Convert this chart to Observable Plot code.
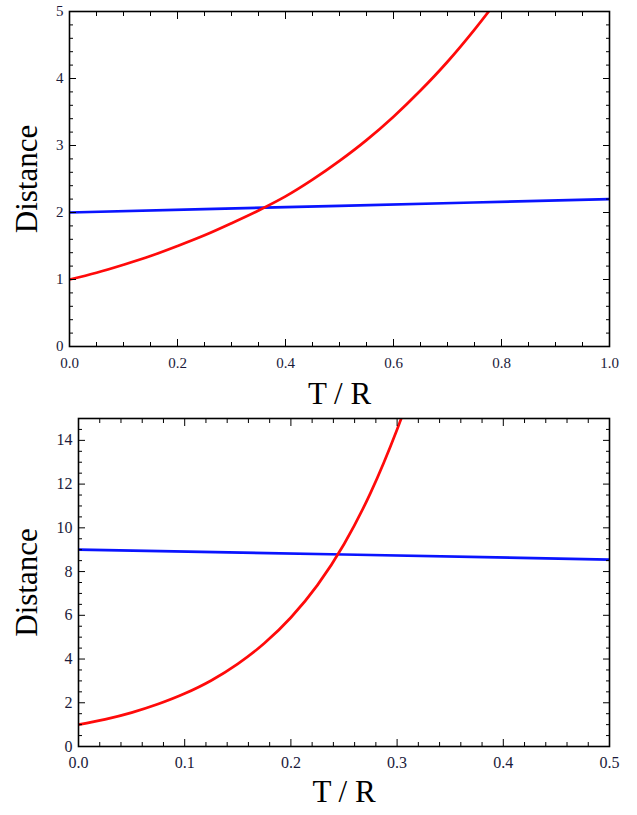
<!DOCTYPE html>
<html><head><meta charset="utf-8">
<script src="https://cdn.jsdelivr.net/npm/d3@7"></script>
<script src="https://cdn.jsdelivr.net/npm/@observablehq/plot@0.6"></script>
<style>body{margin:0;background:#fff} #c svg{display:block}</style>
</head><body><div id="c"></div>
<script>
// ---- Top panel data ----
const topRedT   = [0, 0.05, 0.1, 0.15, 0.2, 0.25, 0.3, 0.35, 0.4, 0.45, 0.5, 0.55, 0.6, 0.65, 0.7, 0.75, 0.8];
const topRedY   = [1.0, 1.10, 1.22, 1.35, 1.50, 1.66, 1.84, 2.03, 2.24, 2.49, 2.77, 3.08, 3.43, 3.82, 4.25, 4.73, 5.25];
const topBlueT  = [0, 0.5, 1.0];
const topBlueY  = [2.0, 2.1, 2.2];
const topXTicks = [0, 0.2, 0.4, 0.6, 0.8, 1.0];
const topYTicks = [0, 1, 2, 3, 4, 5];

// ---- Bottom panel data ----
const botRedT   = [0, 0.025, 0.05, 0.075, 0.1, 0.125, 0.15, 0.175, 0.2, 0.225, 0.25, 0.275, 0.3, 0.31];
const botRedY   = [1.0, 1.24, 1.55, 1.94, 2.42, 3.02, 3.78, 4.72, 5.9, 7.38, 9.25, 11.6, 14.5, 15.8];
const botBlueT  = [0, 0.25, 0.5];
const botBlueY  = [9.0, 8.78, 8.55];
const botXTicks = [0, 0.1, 0.2, 0.3, 0.4, 0.5];
const botYTicks = [0, 2, 4, 6, 8, 10, 12, 14];

const xLabel = "T / R";
const yLabel = "Distance";

const font = "'Liberation Serif', 'Times New Roman', serif";
const zip = (xs, ys) => xs.map((x, i) => ({t: x, v: ys[i]}));

function panel(o) {
  const tickStyle = {label: null, tickFormat: () => ""};
  return Plot.plot({
    width: 637, height: o.height,
    marginTop: o.mt, marginRight: o.mr, marginBottom: o.mb, marginLeft: o.ml,
    x: {domain: o.xDomain, label: null},
    y: {domain: o.yDomain, label: null},
    style: {fontFamily: font, background: "white", color: "black", overflow: "visible"},
    marks: [
      Plot.line(zip(o.blueT, o.blueY), {x: "t", y: "v", stroke: "#0a14ff", strokeWidth: 2.7, curve: "monotone-x", clip: true}),
      Plot.line(zip(o.redT, o.redY), {x: "t", y: "v", stroke: "#ff0a0a", strokeWidth: 2.7, curve: "monotone-x", clip: true}),
      // tick labels
      Plot.axisX(o.xTicks, {anchor: "bottom", tickSize: 0, tickPadding: o.xPad, tickFormat: d3.format(".1f"), fontSize: o.tickFont, fill: "#1a1a3a", label: null}),
      Plot.axisY(o.yTicks, {anchor: "left", tickSize: 0, tickPadding: 6, tickFormat: d3.format("d"), fontSize: o.tickFont, fill: "#1a1a3a", label: null}),
      // inward ticks on all four sides
      Plot.axisX(o.xTicks, {anchor: "bottom", tickSize: -7, ...tickStyle}),
      Plot.axisX(o.xMinor, {anchor: "bottom", tickSize: -4, ...tickStyle}),
      Plot.axisX(o.xTicks, {anchor: "top", tickSize: -7, ...tickStyle}),
      Plot.axisX(o.xMinor, {anchor: "top", tickSize: -4, ...tickStyle}),
      Plot.axisY(o.yTicks, {anchor: "left", tickSize: -7, ...tickStyle}),
      Plot.axisY(o.yMinor, {anchor: "left", tickSize: -4, ...tickStyle}),
      Plot.axisY(o.yTicks, {anchor: "right", tickSize: -7, ...tickStyle}),
      Plot.axisY(o.yMinor, {anchor: "right", tickSize: -4, ...tickStyle}),
      Plot.frame({stroke: "black", strokeWidth: 1.6}),
      Plot.text([xLabel], {frameAnchor: "bottom", textAnchor: "middle", lineAnchor: "middle", dy: o.xLabelDy, text: d => d, fontSize: 31, fill: "black"}),
      Plot.text([yLabel], {frameAnchor: "left", textAnchor: "middle", lineAnchor: "middle", rotate: -90, dx: o.yLabelDx, text: d => d, fontSize: 31, fill: "black"})
    ]
  });
}

const topPanel = panel({
  height: 400, mt: 11, mr: 28, mb: 54, ml: 69,
  xDomain: [0, 1], yDomain: [0, 5],
  xTicks: topXTicks, yTicks: topYTicks,
  xMinor: d3.range(0, 1.0001, 0.05).filter((d, i) => i % 4 !== 0),
  yMinor: d3.range(0, 5.0001, 0.2).filter((d, i) => i % 5 !== 0),
  redT: topRedT, redY: topRedY, blueT: topBlueT, blueY: topBlueY,
  tickFont: 15, xPad: 11,
  xLabelDy: 48, yLabelDx: -42
});
const bottomPanel = panel({
  height: 415, mt: 18, mr: 28, mb: 69, ml: 78,
  xDomain: [0, 0.5], yDomain: [0, 15],
  xTicks: botXTicks, yTicks: botYTicks,
  xMinor: d3.range(0, 0.5001, 0.02).filter((d, i) => i % 5 !== 0),
  yMinor: d3.range(0, 15.0001, 0.5).filter((d, i) => i % 4 !== 0),
  redT: botRedT, redY: botRedY, blueT: botBlueT, blueY: botBlueY,
  tickFont: 16, xPad: 10,
  xLabelDy: 46, yLabelDx: -51
});
document.getElementById("c").append(topPanel, bottomPanel);
</script>
</body></html>
